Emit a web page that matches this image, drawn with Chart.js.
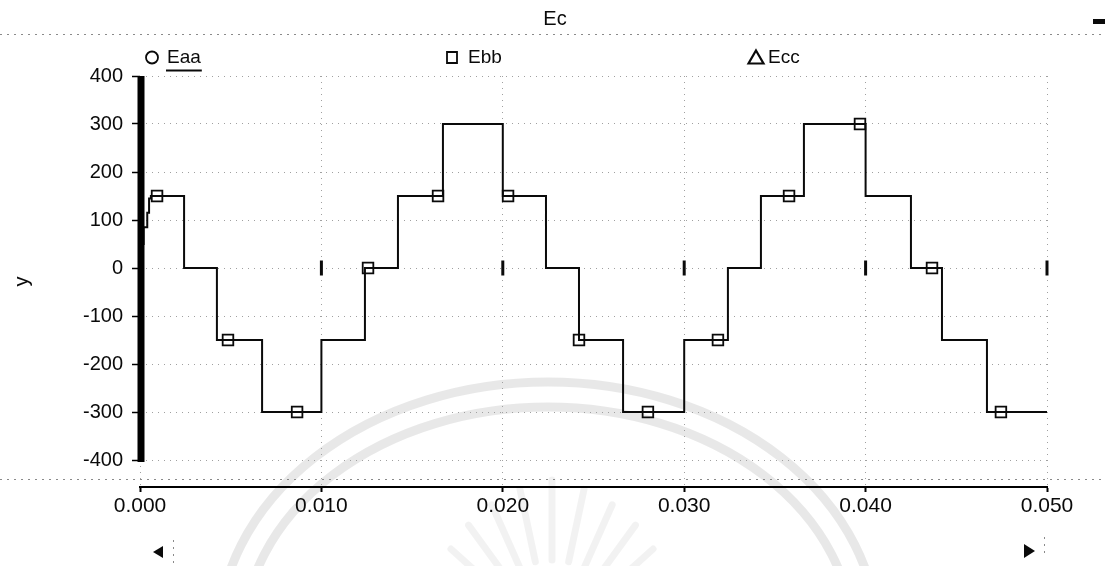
<!DOCTYPE html>
<html>
<head>
<meta charset="utf-8">
<script src="https://cdn.jsdelivr.net/npm/chart.js@4.4.1/dist/chart.umd.min.js"></script>
<style>
  html, body { margin: 0; padding: 0; background: #fff; overflow: hidden; }
  canvas { display: block; }
</style>
</head>
<body>
<canvas id="chart" width="1105" height="566"></canvas>
<script>
// ---- data ----
const chartTitle = 'Ec';
const seriesNames = ['Eaa', 'Ebb', 'Ecc'];

// Ebb as a staircase: each level is held from its time until the next breakpoint
const ebbTimes  = [0, 0.0002, 0.0004, 0.0005, 0.0006, 0.00243, 0.00424, 0.00673, 0.0100, 0.0124,
                   0.01422, 0.0167, 0.0200, 0.02238, 0.0242, 0.02663, 0.0300, 0.03241, 0.03423,
                   0.0366, 0.0400, 0.0425, 0.04421, 0.04669, 0.0500];
const ebbLevels = [50, 85, 115, 145, 150, 0, -150, -300, -150, 0,
                   150, 300, 150, 0, -150, -300, -150, 0, 150,
                   300, 150, 0, -150, -300, -300];

// sampled Ebb points shown with square markers
const ebbMarkTimes  = [0.00094, 0.00485, 0.00866, 0.01257, 0.01643, 0.02029, 0.0242,
                       0.0280, 0.03186, 0.03578, 0.03969, 0.04366, 0.04746];
const ebbMarkValues = [150, -150, -300, 0, 150, 150, -150, -300, -150, 150, 300, 0, -300];

// short bars on the zero line at each major time division
const zeroMarkTimes = [0.01, 0.02, 0.03, 0.04, 0.05];

const xTicks = [0, 0.01, 0.02, 0.03, 0.04, 0.05];
const yTicks = [-400, -300, -200, -100, 0, 100, 200, 300, 400];

// ---- helpers ----
const FONT = "'Liberation Sans', Arial, Helvetica, sans-serif";
const INK = '#0a0a0a';

const toPoints = (xs, ys) => xs.map((x, i) => ({ x, y: ys[i] }));

// page furniture drawn under the plot: seal watermark, dotted frame lines, scroll arrows
const pagePlugin = {
  id: 'page',
  beforeDraw(chart) {
    const { ctx, width: W } = chart;
    ctx.save();
    ctx.fillStyle = '#fff';
    ctx.fillRect(0, 0, chart.width, chart.height);

    // faint seal
    ctx.strokeStyle = 'rgba(0,0,0,0.09)';
    ctx.lineWidth = 9;
    [[330, 258], [305, 233]].forEach(([rx, ry]) => {
      ctx.beginPath();
      ctx.ellipse(548, 640, rx, ry, 0, Math.PI, 2 * Math.PI);
      ctx.stroke();
    });
    ctx.lineCap = 'round';
    ctx.lineWidth = 7;
    ctx.strokeStyle = 'rgba(0,0,0,0.05)';
    for (let i = 0; i < 13; i++) {
      const a = Math.PI * (1.1 + i * 0.8 / 12);
      const r0 = 80, r1 = 160 - Math.abs(i - 6) * 6;
      ctx.beginPath();
      ctx.moveTo(552 + r0 * Math.cos(a), 640 + r0 * Math.sin(a));
      ctx.lineTo(552 + r1 * Math.cos(a), 640 + r1 * Math.sin(a));
      ctx.stroke();
    }
    ctx.lineCap = 'butt';

    // dotted frame lines
    ctx.strokeStyle = '#8a8a8a';
    ctx.lineWidth = 1;
    ctx.setLineDash([2, 5]);
    [34.5, 479.5].forEach(y => {
      ctx.beginPath(); ctx.moveTo(0, y); ctx.lineTo(W, y); ctx.stroke();
    });
    ctx.beginPath(); ctx.moveTo(173.5, 540); ctx.lineTo(173.5, 566); ctx.stroke();
    ctx.beginPath(); ctx.moveTo(1044.5, 537); ctx.lineTo(1044.5, 556); ctx.stroke();
    ctx.setLineDash([]);

    // scroll arrows and corner dash
    ctx.fillStyle = INK;
    ctx.beginPath(); ctx.moveTo(153, 552); ctx.lineTo(163, 546); ctx.lineTo(163, 558); ctx.closePath(); ctx.fill();
    ctx.beginPath(); ctx.moveTo(1035, 551); ctx.lineTo(1024, 544); ctx.lineTo(1024, 558); ctx.closePath(); ctx.fill();
    ctx.fillRect(1093, 19, 12, 5);
    ctx.restore();
  }
};

// heavy vertical axis bar from -400 to 400
const axisBarPlugin = {
  id: 'axisBar',
  afterDatasetsDraw(chart) {
    const { ctx, scales: { x, y } } = chart;
    const x0 = x.getPixelForValue(0) + 1;
    const top = y.getPixelForValue(yTicks[yTicks.length - 1]);
    const bottom = y.getPixelForValue(yTicks[0]);
    ctx.save();
    ctx.fillStyle = '#000';
    ctx.fillRect(x0 - 3.5, top, 7, bottom - top + 2);
    ctx.restore();
  }
};

// title and series key
const headerPlugin = {
  id: 'header',
  afterDraw(chart, args, opts) {
    const ctx = chart.ctx;
    ctx.save();
    ctx.fillStyle = INK;
    ctx.strokeStyle = INK;
    ctx.textBaseline = 'middle';

    ctx.font = '20px ' + FONT;
    ctx.textAlign = 'center';
    ctx.fillText(opts.title, 555, 19);

    ctx.font = '19px ' + FONT;
    ctx.textAlign = 'left';
    const y = 57.5;
    chart.data.datasets.filter(d => d.keySlot !== undefined).forEach(d => {
      const mx = opts.markX[d.keySlot];
      const tx = opts.textX[d.keySlot];
      ctx.lineWidth = 1.8;
      ctx.beginPath();
      if (d.pointStyle === 'circle') {
        ctx.arc(mx, y, 6, 0, 2 * Math.PI);
      } else if (d.pointStyle === 'rect') {
        ctx.rect(mx - 5, y - 5.5, 10, 11);
      } else {
        ctx.lineWidth = 2.2;
        ctx.moveTo(mx, y - 7);
        ctx.lineTo(mx + 7.5, y + 6);
        ctx.lineTo(mx - 7.5, y + 6);
        ctx.closePath();
      }
      ctx.stroke();
      ctx.fillText(d.label, tx, y);
      if (d.keySelected) {
        const w = ctx.measureText(d.label).width;
        ctx.fillRect(tx - 1, y + 12, w + 2, 2);
      }
    });
    ctx.restore();
  }
};

const datasets = [
  { label: seriesNames[0], data: [], keySlot: 0, keySelected: true, pointStyle: 'circle' },
  {
    label: seriesNames[1],
    data: toPoints(ebbTimes, ebbLevels),
    keySlot: 1,
    pointStyle: 'rect',
    stepped: true,
    borderColor: INK,
    borderWidth: 2,
    pointRadius: 0,
    fill: false
  },
  { label: seriesNames[2], data: [], keySlot: 2, pointStyle: 'triangle' },
  {
    label: seriesNames[1] + ' samples',
    data: toPoints(ebbMarkTimes, ebbMarkValues),
    showLine: false,
    pointStyle: 'rect',
    pointRadius: 7.5,
    borderColor: INK,
    borderWidth: 1.8,
    backgroundColor: 'rgba(255,255,255,0)'
  },
  {
    label: 'zero marks',
    data: zeroMarkTimes.map(t => ({ x: t, y: 0 })),
    showLine: false,
    clip: false,
    pointStyle: 'line',
    rotation: 90,
    pointRadius: 7.5,
    borderColor: INK,
    borderWidth: 3
  }
];

const GRID = '#a0a0a0';

new Chart(document.getElementById('chart'), {
  type: 'line',
  data: { datasets },
  plugins: [pagePlugin, axisBarPlugin, headerPlugin],
  options: {
    responsive: false,
    animation: false,
    devicePixelRatio: 1,
    layout: { padding: { top: 76, left: 0, right: 58, bottom: 29 } },
    plugins: {
      legend: { display: false },
      title: { display: false },
      tooltip: { enabled: false },
      header: { title: chartTitle, markX: [152, 452, 756], textX: [167, 468, 768] }
    },
    scales: {
      x: {
        type: 'linear',
        min: 0,
        max: 0.05,
        afterBuildTicks: s => { s.ticks = xTicks.map(v => ({ value: v })); },
        afterFit: s => { s.height = 50; },
        ticks: {
          callback: v => Number(v).toFixed(3),
          color: INK,
          padding: 2,
          maxRotation: 0,
          font: { family: FONT, size: 21 }
        },
        grid: {
          color: GRID,
          lineWidth: 1,
          tickLength: 5,
          tickColor: '#000',
          tickWidth: 2
        },
        border: { display: true, color: '#000', width: 2, dash: [1, 5] }
      },
      y: {
        type: 'linear',
        min: -456.25,
        max: 400,
        afterBuildTicks: s => { s.ticks = yTicks.map(v => ({ value: v })); },
        afterFit: s => { s.width = 140; },
        ticks: {
          color: INK,
          padding: 9,
          font: { family: FONT, size: 20 }
        },
        grid: {
          color: GRID,
          lineWidth: 1,
          tickLength: 8,
          tickColor: '#000',
          tickWidth: 1.5
        },
        border: { display: false, dash: [1, 5] },
        title: {
          display: true,
          text: 'y',
          color: INK,
          font: { family: FONT, size: 20 },
          padding: { top: 10, bottom: 0 }
        }
      }
    }
  }
});
</script>
</body>
</html>
